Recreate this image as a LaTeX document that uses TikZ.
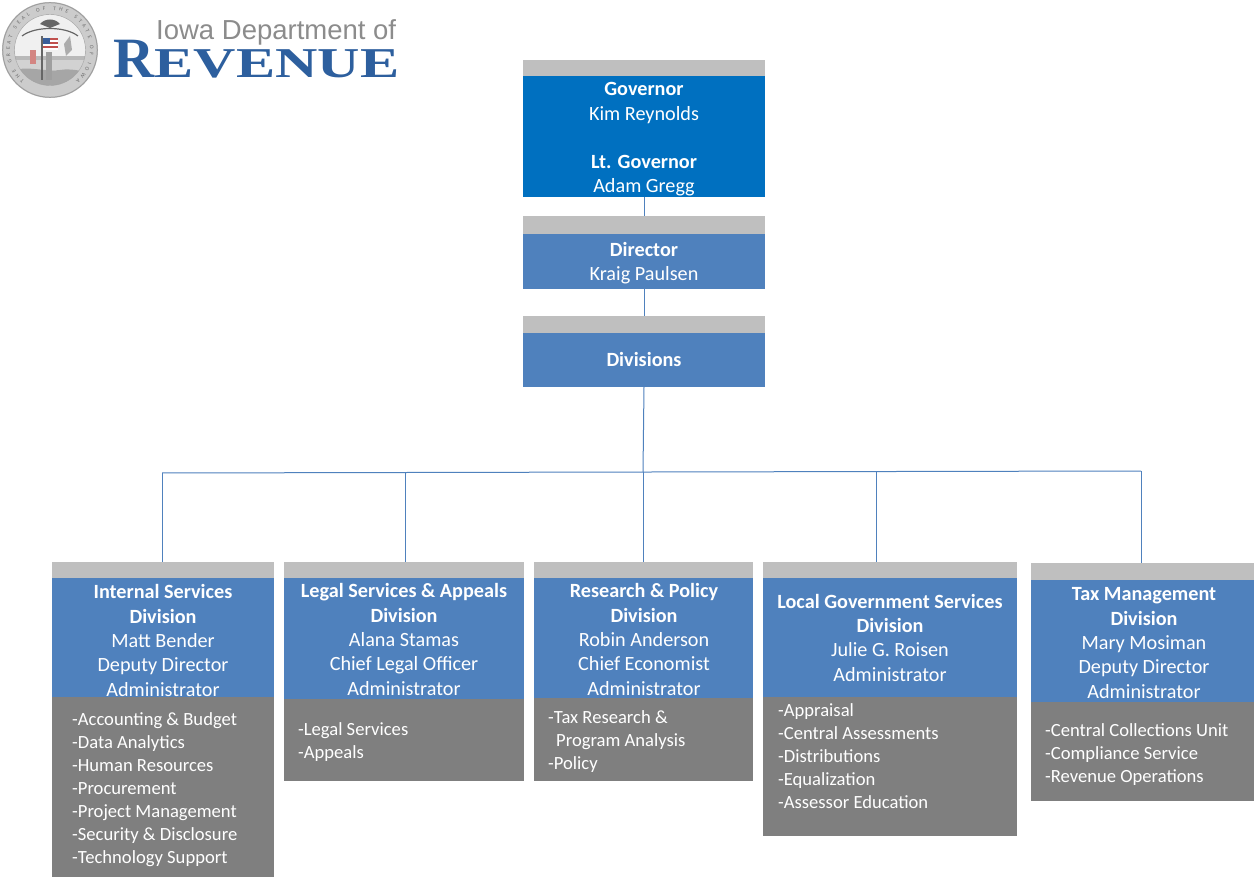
\documentclass[tikz,border=0pt]{standalone}
\usepackage{fontspec}
\setmainfont{Carlito}
\newfontfamily\logosans{Liberation Sans}
\newfontfamily\logoserif{Liberation Serif}
\newfontfamily\logoserifwide[FakeStretch=1.38]{Liberation Serif}
\usetikzlibrary{decorations.text}
\definecolor{govblue}{HTML}{0070C0}
\definecolor{divblue}{HTML}{4F81BD}
\definecolor{stripgray}{HTML}{BFBFBF}
\definecolor{darkgray}{HTML}{7F7F7F}
\definecolor{linecol}{HTML}{4F81BD}
\definecolor{logogray}{HTML}{8C8C8C}
\definecolor{logoblue}{HTML}{2D5F9E}
\definecolor{flagred}{HTML}{C0504D}
\definecolor{flagblue}{HTML}{3A5F9A}
\newcommand\orgbox[8]{%
  \pgfmathsetmacro\ow{#3-#2}%
  \pgfmathsetmacro\osh{#5-#4}%
  \pgfmathsetmacro\obh{#6-#5}%
  \node[plainbox, fill=stripgray, minimum width=\ow pt, minimum height=\osh pt, anchor=north west] (#1-s) at (#2,-#4) {};
  \node[plainbox, fill=#8, minimum width=\ow pt, minimum height=\obh pt, anchor=north west] (#1) at (#2,-#5) {};
  \pgfmathsetmacro\odh{#7-#6}%
  \ifdim #7pt>0pt
  \node[plainbox, fill=darkgray, minimum width=\ow pt, minimum height=\odh pt, anchor=north west] (#1-d) at (#2,-#6) {};
  \fi
}
\begin{document}
\begin{tikzpicture}[x=1pt,y=1pt,
  plainbox/.style={draw=none, inner sep=0, outer sep=0, rectangle},
  conn/.style={draw=linecol, line width=1pt},
  hdr/.style={text=white, align=center, inner sep=0, anchor=base, font=\fontsize{20.2}{24.3}\selectfont},
  lst/.style={text=white, align=left, inner sep=0, anchor=base west, font=\fontsize{18.6}{23}\selectfont}]
\useasboundingbox (0,0) rectangle (1254,-877);
\fill[white] (0,0) rectangle (1254,-877);

% ---------- logo seal ----------
\fill[gray!40] (50,-50) circle (48);
\draw[gray!75, line width=1pt] (50,-50) circle (47.3);
\fill[gray!12] (50,-50) circle (35.5);
\begin{scope}
\clip (50,-50) circle (35.5);
\fill[gray!55] (14,-56) rectangle (86,-60);
\fill[gray!35] (14,-60) rectangle (86,-70);
\fill[gray!70] (14,-70) .. controls (30,-66) and (45,-72) .. (60,-70) .. controls (72,-68) and (80,-72) .. (86,-70) -- (86,-90) -- (14,-90) -- cycle;
\draw[gray!80!black, line width=1.2pt] (22,-36) .. controls (35,-26) and (65,-26) .. (78,-36);
\fill[gray!80!black] (40,-24) .. controls (45,-18) and (55,-18) .. (60,-24) -- (50,-28) -- cycle;
\fill[white] (43,-38) rectangle (58,-50);
\foreach \k in {0,2,4} {\fill[flagred] (43,-38-\k*2) rectangle (58,-40-\k*2);}
\fill[flagblue] (43,-38) rectangle (50,-44);
\fill[gray!80!black] (41,-36) rectangle (43,-80);
\fill[gray!75] (46,-52) rectangle (52,-80);
\fill[gray!65] (64,-44) -- (70,-36) -- (72,-50) -- (66,-56) -- cycle;
\fill[flagred!70] (30,-50) rectangle (36,-64);
\end{scope}
\draw[gray!75] (50,-50) circle (35.5);
\path[decorate, decoration={text along path, text align=fit to path,
  text={|\fontsize{5.5}{5.5}\selectfont\color{gray!85!black}|THE GREAT SEAL OF THE STATE OF IOWA}}]
  (50,-50) ++(230:40) arc (230:-50:40);

\node[anchor=base west, inner sep=0, text depth=4pt, text=logogray, font=\logosans\fontsize{27.5}{30}\selectfont] (logo1) at (156,-40) {Iowa Department of};
\node[anchor=base west, inner sep=0, text=logoblue, font=\logoserif\bfseries\fontsize{57}{57}\selectfont] (logo2) at (113,-78) {R};
\node[anchor=base west, inner sep=0, text height=29pt, text depth=0pt, text=logoblue, font=\logoserifwide\bfseries\fontsize{42.5}{43}\selectfont] (logo3) at (logo2.base east) {EVENUE};

% ---------- top boxes ----------
\orgbox{gov}{523}{765}{60}{76}{197}{0}{govblue}
\orgbox{dir}{523}{765}{216}{234}{289}{0}{divblue}
\orgbox{divs}{523}{765}{316}{333}{387}{0}{divblue}

\node[hdr] (govt) at (644,-193) {\textbf{Governor}\\Kim Reynolds\\[24.3pt]\textbf{Lt. Governor}\\Adam Gregg};
\node[hdr] (dirt) at (644,-281) {\textbf{Director}\\Kraig Paulsen};
\node[hdr] (divst) at (644,-367) {\textbf{Divisions}};

% ---------- division boxes ----------
\orgbox{d1}{52}{274}{562}{578}{697}{877}{divblue}
\orgbox{d2}{284}{524}{562}{578}{699}{781}{divblue}
\orgbox{d3}{534}{753}{562}{578}{698}{781}{divblue}
\orgbox{d4}{763}{1017}{562}{578}{697}{836}{divblue}
\orgbox{d5}{1031}{1254}{563}{580}{702}{801}{divblue}

\node[hdr] (d1t) at (163,-696) {\textbf{Internal Services}\\\textbf{Division}\\Matt Bender\\Deputy Director\\Administrator};
\node[lst] (d1l) at (72,-863) {-Accounting \& Budget\\-Data Analytics\\-Human Resources\\-Procurement\\-Project Management\\-Security \& Disclosure\\-Technology Support};

\node[hdr] (d2t) at (404,-695) {\textbf{Legal Services \& Appeals}\\\textbf{Division}\\Alana Stamas\\Chief Legal Officer\\Administrator};
\node[lst] (d2l) at (298,-758) {-Legal Services\\-Appeals};

\node[hdr] (d3t) at (644,-695) {\textbf{Research \& Policy}\\\textbf{Division}\\Robin Anderson\\Chief Economist\\Administrator};
\node[lst] (d3l) at (548,-769) {-Tax Research \&\\\hspace*{8pt}Program Analysis\\-Policy};

\node[hdr] (d4t) at (890,-681) {\textbf{Local Government Services}\\\textbf{Division}\\Julie G. Roisen\\Administrator};
\node[lst] (d4l) at (778,-808) {-Appraisal\\-Central Assessments\\-Distributions\\-Equalization\\-Assessor Education};

\node[hdr] (d5t) at (1144,-698) {\textbf{Tax Management}\\\textbf{Division}\\Mary Mosiman\\Deputy Director\\Administrator};
\node[lst] (d5l) at (1045,-782) {-Central Collections Unit\\-Compliance Service\\-Revenue Operations};

% ---------- connectors ----------
\coordinate (b1) at (162,-473);
\coordinate (b2) at (405,-472.5);
\coordinate (b3) at (643,-472);
\coordinate (b4) at (876,-471.5);
\coordinate (b5) at (1141,-471);
\draw[conn] (gov.south) -- (dir-s.north);
\draw[conn] (dir.south) -- (divs-s.north);
\draw[conn] (divs.south) -- (b3);
\draw[conn] (b1) -- (b5);
\draw[conn] (b1) -- (b1 |- d1-s.north);
\draw[conn] (b2) -- (b2 |- d2-s.north);
\draw[conn] (b3) -- (b3 |- d3-s.north);
\draw[conn] (b4) -- (b4 |- d4-s.north);
\draw[conn] (b5) -- (b5 |- d5-s.north);
\end{tikzpicture}
\end{document}
